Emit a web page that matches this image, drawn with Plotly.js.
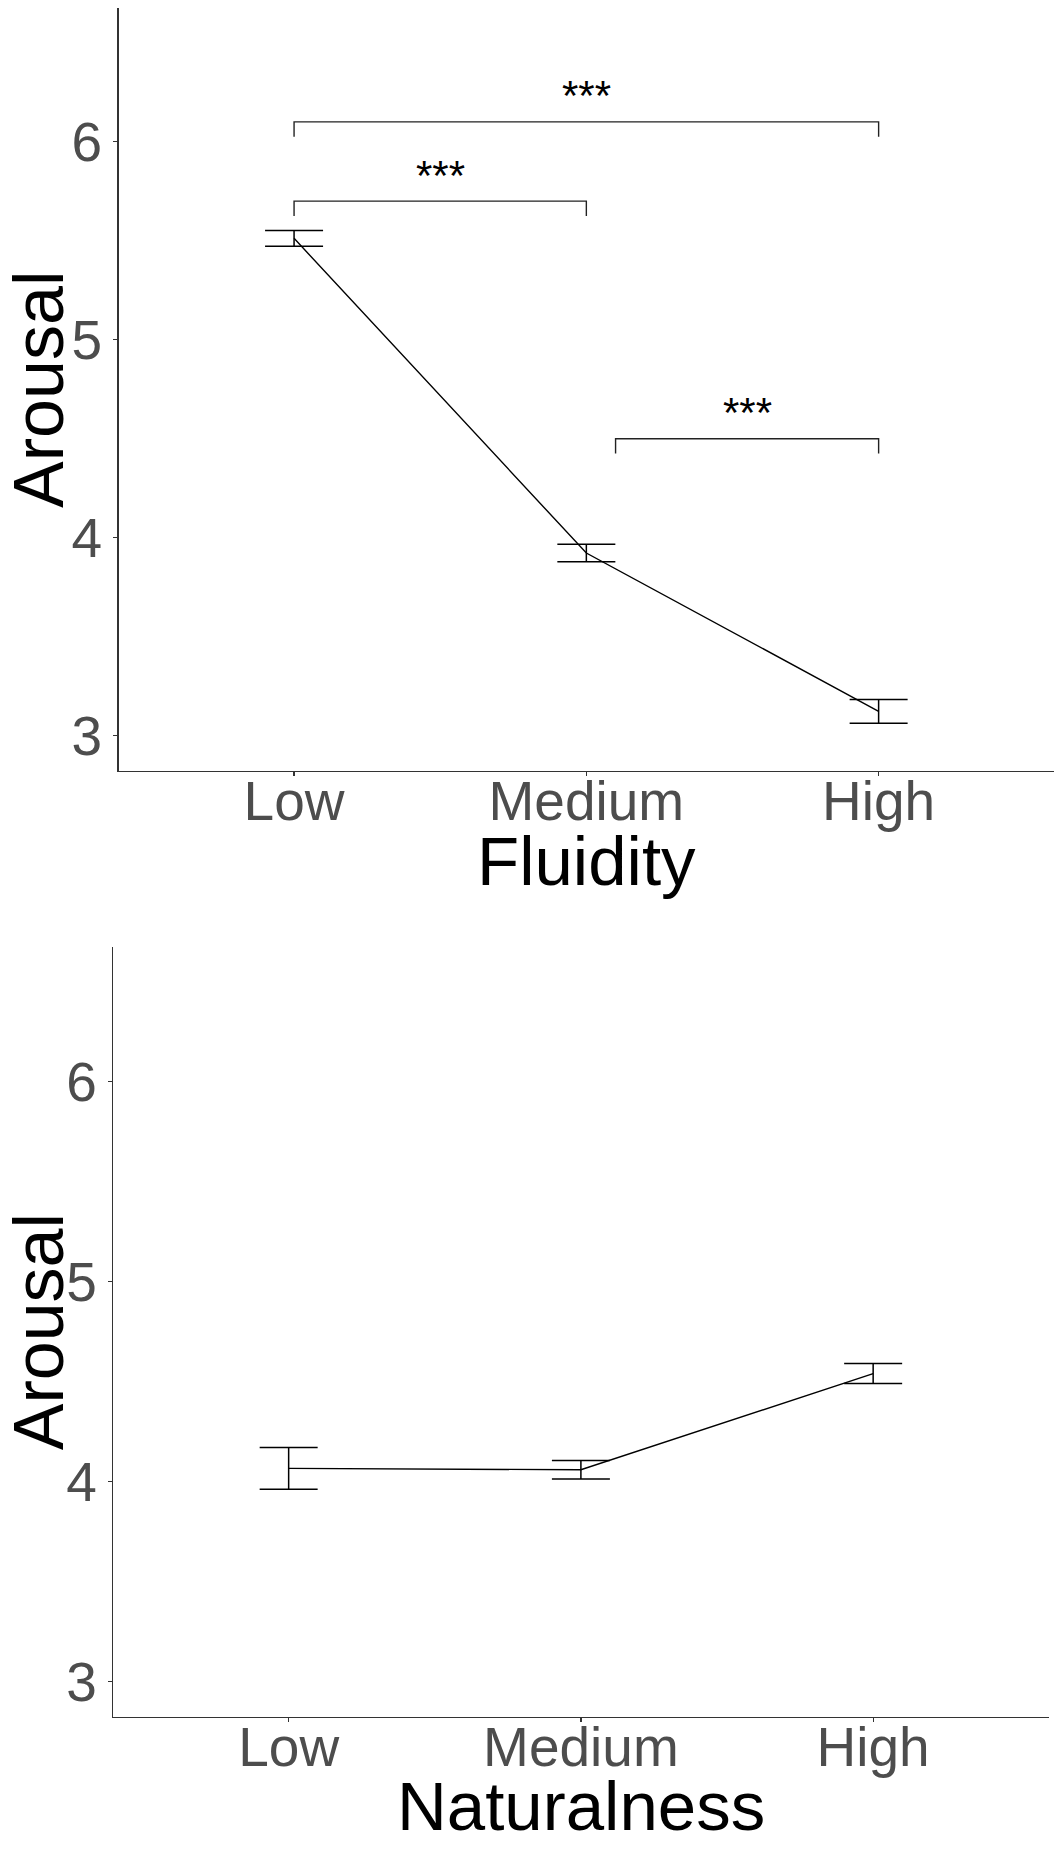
<!DOCTYPE html>
<html><head><meta charset="utf-8">
<script src="https://cdn.plot.ly/plotly-3.0.1.min.js"></script>
<style>html,body{margin:0;padding:0;background:#fff;} #chart{width:1063px;height:1865px;}</style>
</head><body><div id="chart"></div>
<script>
// ---- data ----
const levels = ['Low', 'Medium', 'High'];
const fluidityMean = [5.512, 3.923, 3.124];
const fluiditySE = [0.040, 0.044, 0.060];
const naturalnessMean = [4.066, 4.059, 4.540];
const naturalnessSE = [0.104, 0.046, 0.050];
const yTicks = [3, 4, 5, 6];
const sigFrom = [1, 1, 2.1];
const sigTo = [3, 2, 3];
const sigY = [6.1, 5.7, 4.5];
const sigLabel = ['***', '***', '***'];
const tipLen = 0.075;
const xTitles = ['Fluidity', 'Naturalness'];
const yTitle = 'Arousal';

// ---- build ----
const FONT = '"Liberation Sans", Arial, Helvetica, sans-serif';
const xPos = levels.map((_, i) => i + 1);

function meanTrace(means, se, xa, ya) {
  return {
    type: 'scatter', mode: 'lines', x: xPos, y: means, xaxis: xa, yaxis: ya,
    line: {color: '#000', width: 1.4}, showlegend: false, hoverinfo: 'skip',
    error_y: {type: 'data', array: se, visible: true, color: '#000', thickness: 1.5, width: 29}
  };
}

const traces = [
  meanTrace(fluidityMean, fluiditySE, 'x', 'y'),
  meanTrace(naturalnessMean, naturalnessSE, 'x2', 'y2')
];

const annotations = [];
sigFrom.forEach((s, i) => {
  const e = sigTo[i], yv = sigY[i];
  traces.push({
    type: 'scatter', mode: 'lines', xaxis: 'x', yaxis: 'y',
    x: [s, s, e, e], y: [yv - tipLen, yv, yv, yv - tipLen],
    line: {color: '#222', width: 1.4}, showlegend: false, hoverinfo: 'skip'
  });
  annotations.push({
    xref: 'x', yref: 'y', x: (s + e) / 2, y: yv, yshift: 26, yanchor: 'middle',
    text: sigLabel[i], showarrow: false, font: {family: FONT, size: 42, color: '#000'}
  });
});

// x-axis titles (placed under the tick labels, centred on the middle category)
annotations.push({
  xref: 'x', yref: 'paper', x: xPos[1], y: 0.53796, yanchor: 'middle', xanchor: 'center',
  text: xTitles[0], showarrow: false, font: {family: FONT, size: 69, color: '#000'}
});
annotations.push({
  xref: 'x2', yref: 'paper', x: xPos[1], y: 0.03126, yanchor: 'middle', xanchor: 'center',
  text: xTitles[1], showarrow: false, font: {family: FONT, size: 69, color: '#000'}
});

function xAxis(domain, anchor) {
  return {
    domain: domain, anchor: anchor, range: [0.4, 3.6], tickvals: xPos, ticktext: levels,
    showline: true, linecolor: '#333', linewidth: 1.5, ticks: 'outside', ticklen: 4,
    tickcolor: '#333', tickwidth: 1.2, showgrid: false, zeroline: false,
    ticklabelstandoff: -22,
    tickfont: {family: FONT, size: 55, color: '#4D4D4D'}
  };
}
function yAxis(domain, anchor) {
  return {
    domain: domain, anchor: anchor, range: [2.825, 6.675], tickvals: yTicks,
    showline: true, linecolor: '#333', linewidth: 1.5, ticks: 'outside', ticklen: 4,
    tickcolor: '#333', tickwidth: 1.2, showgrid: false, zeroline: false,
    tickfont: {family: FONT, size: 55, color: '#4D4D4D'},
    title: {text: yTitle, font: {family: FONT, size: 70, color: '#000'}, standoff: 6}
  };
}

const layout = {
  width: 1063, height: 1865,
  margin: {l: 0, r: 0, t: 0, b: 0},
  paper_bgcolor: '#fff', plot_bgcolor: '#fff',
  showlegend: false,
  xaxis: xAxis([0.11166, 0.99153], 'y'),
  yaxis: yAxis([0.58686, 0.99571], 'x'),
  xaxis2: xAxis([0.10659, 0.98636], 'y2'),
  yaxis2: yAxis([0.07962, 0.49239], 'x2'),
  annotations: annotations
};

Plotly.newPlot('chart', traces, layout, {staticPlot: true, displayModeBar: false});
</script>
</body></html>
